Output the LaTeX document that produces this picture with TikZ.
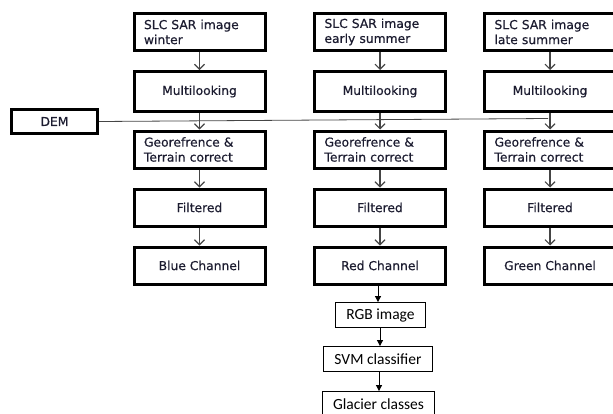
\documentclass[tikz,border=0pt]{standalone}
\usepackage{fontspec}
\setmainfont{DejaVu Sans}
\newfontfamily\vfont{DejaVu Sans}[FakeBold=0.5]
\newfontfamily\calfont{Carlito}
\usetikzlibrary{arrows.meta}
\definecolor{txt}{HTML}{1C1C30}
\definecolor{ln}{HTML}{454545}
\tikzset{
  box/.style={draw=black, line width=3pt, minimum width=131pt, minimum height=37pt, inner sep=0pt, text=txt, font=\vfont\fontsize{12.3}{15}\selectfont},
  lbox/.style={box, align=left, text width=111pt},
  cbox/.style={box, align=center},
  dembox/.style={draw=black, line width=3pt, minimum width=86pt, minimum height=24pt, inner sep=0pt, text=txt, font=\vfont\fontsize{12.3}{15}\selectfont},
  sbox/.style={draw=black, line width=0.9pt, minimum height=25pt, inner sep=0pt, text=black, font=\calfont\fontsize{15.5}{18}\selectfont},
  oarr/.style={draw=ln, line width=1.1pt, -{Straight Barb[length=5pt,width=10pt,line width=1.1pt]}},
  farr/.style={draw=black, line width=1pt, -{Triangle[length=6pt,width=6pt]}},
  demline/.style={draw=ln, line width=0.8pt}
}
\begin{document}
\begin{tikzpicture}[x=1pt,y=-1pt]
\useasboundingbox (0,0) rectangle (613,413);
% column 1
\node[lbox] (s1) at (199.5,32) {SLC SAR image\\winter};
\node[cbox, minimum height=40pt] (m1) at (199.5,91.5) {Multilooking};
\node[lbox] (g1) at (199.5,149.5) {Georefrence \&\\Terrain correct};
\node[cbox] (f1) at (199.5,207.5) {Filtered};
\node[cbox] (c1) at (199.5,265.5) {Blue Channel};
% column 2
\node[lbox] (s2) at (380,32) {SLC SAR image\\early summer};
\node[cbox, minimum height=40pt] (m2) at (380,91.5) {Multilooking};
\node[lbox] (g2) at (380,149.5) {Georefrence \&\\Terrain correct};
\node[cbox] (f2) at (380,207.5) {Filtered};
\node[cbox] (c2) at (380,265.5) {Red Channel};
% column 3
\node[lbox] (s3) at (550,32) {SLC SAR image\\late summer};
\node[cbox, minimum height=40pt] (m3) at (550,91.5) {Multilooking};
\node[lbox] (g3) at (550,149.5) {Georefrence \&\\Terrain correct};
\node[cbox] (f3) at (550,207.5) {Filtered};
\node[cbox] (c3) at (550,265.5) {Green Channel};
% DEM
\node[dembox] (dem) at (54.5,121.5) {DEM};
\coordinate (demend) at (548,118.5);
\draw[demline] (dem.east) -- (demend);
% arrows
\foreach \c in {1,2,3}{
  \draw[oarr] (s\c.south) -- (m\c.north);
  \draw[oarr] (m\c.south) -- (g\c.north);
  \draw[oarr] (g\c.south) -- (f\c.north);
  \draw[oarr] (f\c.south) -- (c\c.north);
}
% bottom chain
\node[sbox, minimum width=90pt] (rgb) at (380.5,315) {RGB image};
\node[sbox, minimum width=109pt] (svm) at (378,359) {SVM classifier};
\node[sbox, minimum width=112pt] (gc) at (378.5,404) {Glacier classes};
\draw[farr] (c2.south -| 378,0) -- (rgb.north -| 378,0);
\draw[farr] (rgb.south -| 380,0) -- (svm.north -| 380,0);
\draw[farr] (svm.south -| 379,0) -- (gc.north -| 379,0);
\end{tikzpicture}
\end{document}
